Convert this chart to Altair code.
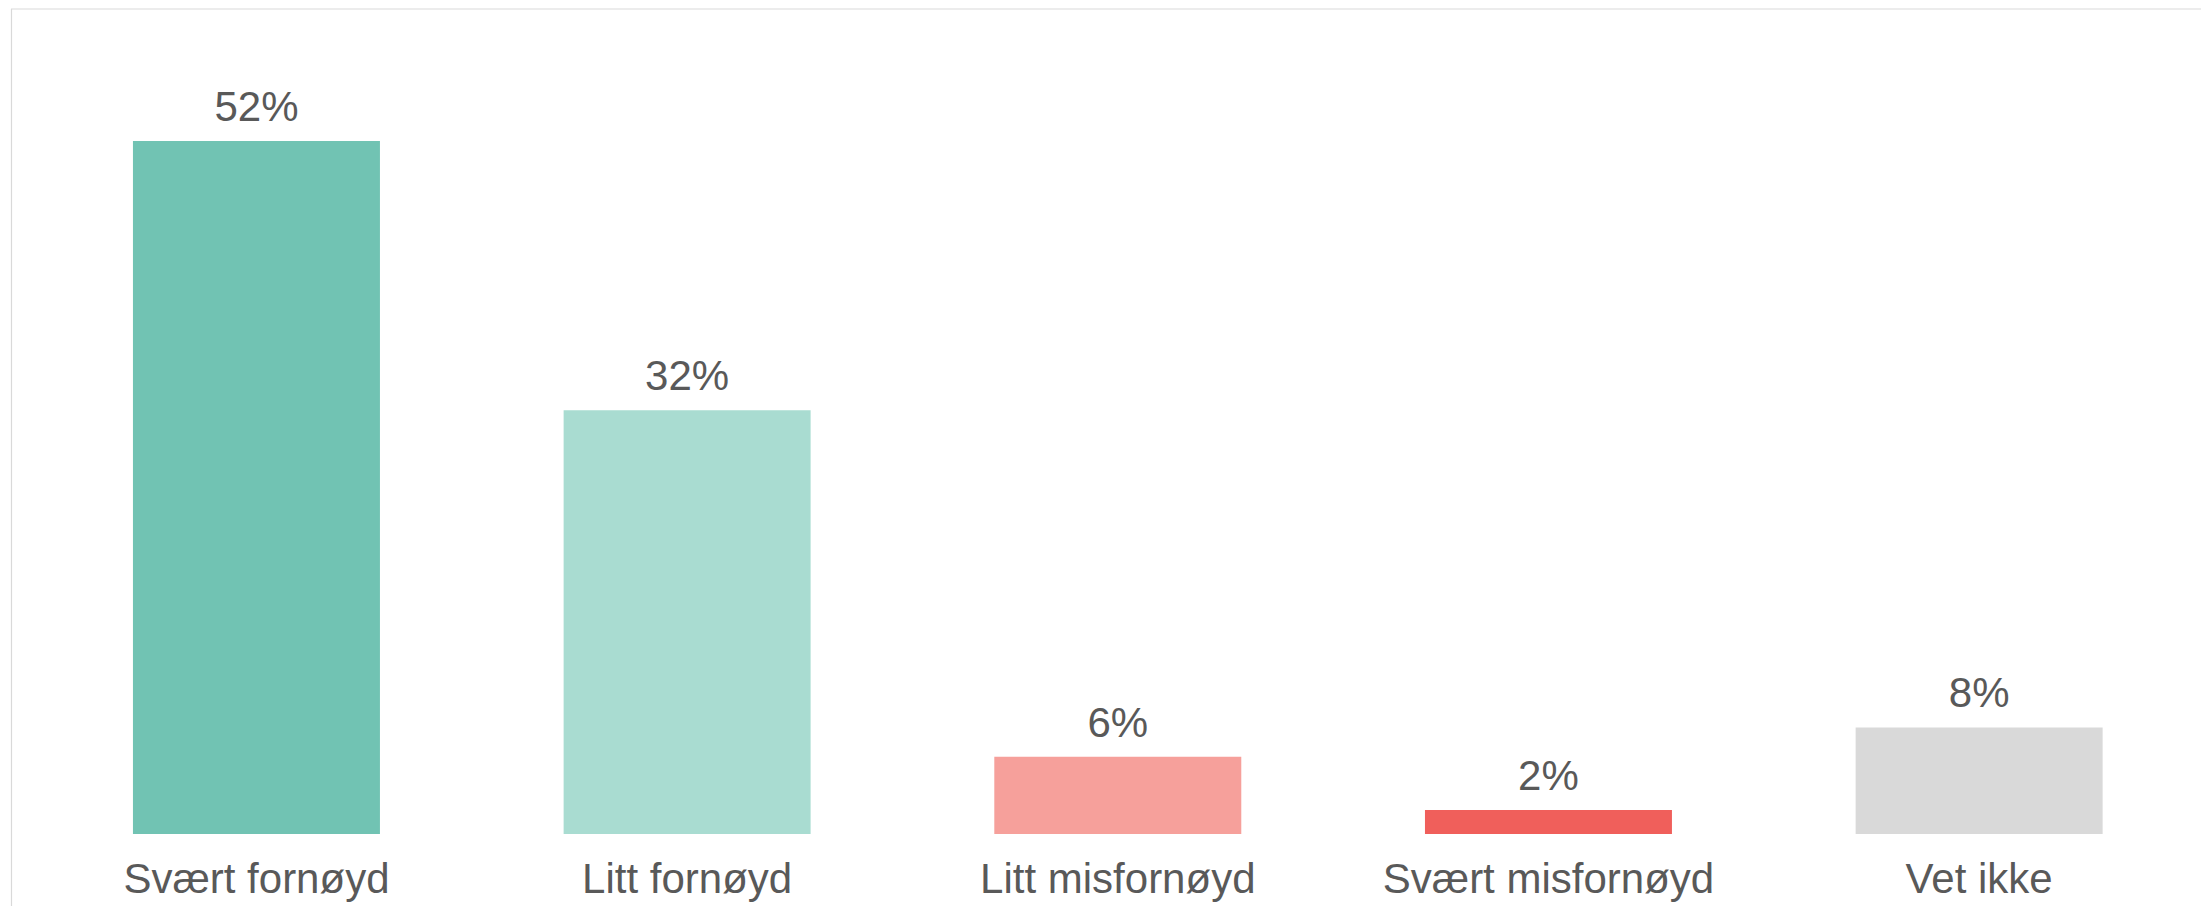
import altair as alt
import pandas as pd

categories = ["Svært fornøyd", "Litt fornøyd", "Litt misfornøyd", "Svært misfornøyd", "Vet ikke"]
values = [52.0, 31.8, 5.8, 1.8, 8.0]
labels = ["52%", "32%", "6%", "2%", "8%"]
colors = ["#71C3B3", "#A9DCD1", "#F6A09B", "#F05F5B", "#D9D9D9"]

df = pd.DataFrame({"cat": categories, "value": values, "label": labels})

FONT = "Liberation Sans"
TXT = "#595959"
W, H = 2190, 824

x_enc = alt.X(
    "cat:N",
    sort=categories,
    title=None,
    scale=alt.Scale(paddingInner=0.4265, paddingOuter=0.2558, align=0.5535),
    axis=alt.Axis(
        labelAngle=0, domain=False, ticks=False, tickSize=0, grid=False,
        labelFont=FONT, labelFontSize=42, labelColor=TXT, labelLimit=0,
        labelBaseline="alphabetic", labelPadding=58,
    ),
)
y_enc = alt.Y("value:Q", scale=alt.Scale(domain=[0, 61.83], nice=False, zero=True), axis=None)

bars = alt.Chart(df).mark_bar().encode(
    x=x_enc,
    y=y_enc,
    color=alt.Color("cat:N", scale=alt.Scale(domain=categories, range=colors), legend=None),
)

text = alt.Chart(df).mark_text(
    font=FONT, fontSize=42, color=TXT, baseline="alphabetic", dy=-20
).encode(x=x_enc, y=y_enc, text="label:N")

frame = pd.DataFrame({"a": [0]})
top_rule = alt.Chart(frame).mark_rule(color="#D9D9D9", strokeWidth=1.2).encode(
    x=alt.value(0), x2=alt.value(W), y=alt.value(-1)
)
left_rule = alt.Chart(frame).mark_rule(color="#D9D9D9", strokeWidth=1.2).encode(
    x=alt.value(0.5), y=alt.value(-1), y2=alt.value(H + 72)
)

chart = alt.layer(bars, text, top_rule, left_rule).properties(
    width=W, height=H,
    padding={"left": 2, "top": 0, "right": 0, "bottom": 0},
).configure_view(stroke=None)

chart.save("out.html", embed_options={"renderer": "svg", "actions": False})
